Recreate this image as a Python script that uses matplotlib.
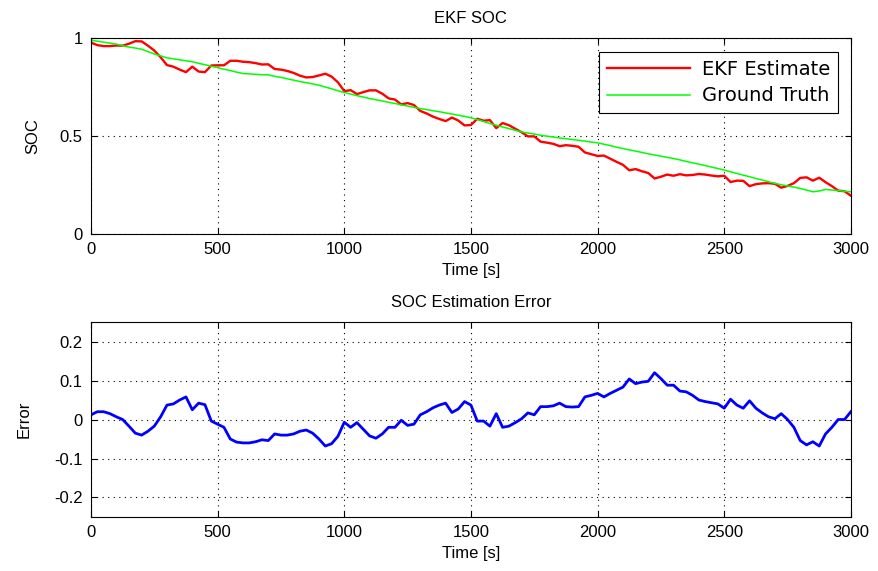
import numpy as np
import matplotlib
matplotlib.use("Agg")
import matplotlib.pyplot as plt

plt.rcParams['font.family'] = ['Liberation Sans Narrow', 'Liberation Sans', 'DejaVu Sans']

# time base, one sample every 25 s
time_s = np.arange(0, 3001, 25)

# reference state of charge
soc_true = [
    0.990, 0.985, 0.980, 0.975, 0.970, 0.962, 0.955, 0.950, 0.944, 0.932,
    0.920, 0.910, 0.900, 0.895, 0.890, 0.885, 0.880, 0.872, 0.865, 0.857,
    0.850, 0.842, 0.835, 0.827, 0.820, 0.818, 0.816, 0.814, 0.813, 0.806,
    0.800, 0.793, 0.786, 0.779, 0.773, 0.767, 0.760, 0.751, 0.742, 0.732,
    0.723, 0.715, 0.707, 0.700, 0.692, 0.686, 0.680, 0.673, 0.667, 0.660,
    0.654, 0.647, 0.641, 0.636, 0.630, 0.625, 0.619, 0.613, 0.607, 0.601,
    0.594, 0.585, 0.575, 0.565, 0.556, 0.547, 0.539, 0.530, 0.522, 0.516,
    0.511, 0.505, 0.500, 0.496, 0.491, 0.487, 0.483, 0.479, 0.475, 0.470,
    0.466, 0.459, 0.452, 0.444, 0.437, 0.430, 0.424, 0.417, 0.410, 0.404,
    0.398, 0.392, 0.386, 0.379, 0.371, 0.364, 0.357, 0.350, 0.342, 0.335,
    0.327, 0.318, 0.310, 0.301, 0.293, 0.284, 0.276, 0.267, 0.259, 0.252,
    0.246, 0.240, 0.233, 0.225, 0.216, 0.220, 0.228, 0.225, 0.222, 0.219,
    0.216,
]

# estimation error (truth - estimate)
soc_err = [
    0.012, 0.020, 0.020, 0.015, 0.007, 0.000, -0.017, -0.035, -0.040, -0.030,
    -0.017, 0.007, 0.037, 0.040, 0.050, 0.058, 0.025, 0.042, 0.038, -0.004,
    -0.012, -0.020, -0.050, -0.058, -0.060, -0.060, -0.057, -0.052, -0.054, -0.037,
    -0.040, -0.040, -0.037, -0.030, -0.027, -0.035, -0.050, -0.068, -0.062, -0.043,
    -0.007, -0.020, -0.008, -0.025, -0.042, -0.048, -0.037, -0.020, -0.020, -0.002,
    -0.015, -0.012, 0.012, 0.020, 0.030, 0.037, 0.042, 0.018, 0.027, 0.046,
    0.037, -0.004, -0.004, -0.017, 0.015, -0.020, -0.017, -0.008, 0.002, 0.017,
    0.012, 0.033, 0.033, 0.035, 0.042, 0.033, 0.032, 0.033, 0.058, 0.062,
    0.067, 0.058, 0.067, 0.075, 0.083, 0.104, 0.092, 0.096, 0.098, 0.120,
    0.105, 0.088, 0.088, 0.073, 0.071, 0.062, 0.050, 0.046, 0.043, 0.040,
    0.029, 0.052, 0.037, 0.029, 0.048, 0.029, 0.017, 0.007, 0.002, 0.015,
    0.000, -0.020, -0.054, -0.065, -0.057, -0.068, -0.037, -0.020, 0.000, 0.000,
    0.020,
]

soc_true = np.array(soc_true)
soc_err = np.array(soc_err)
soc_est = soc_true - soc_err

fig = plt.figure(figsize=(8.79, 5.71), dpi=100)
ax1 = fig.add_axes([0.1035, 0.590, 0.8645, 0.343])
ax2 = fig.add_axes([0.1035, 0.0946, 0.8645, 0.3414])

grid_kw = dict(color='black', linewidth=0.8, dashes=(1, 4))

def matlab_style(ax):
    ax.tick_params(direction='in', top=True, right=True, length=4,
                   width=0.8, labelsize=12, pad=6)
    for s in ax.spines.values():
        s.set_linewidth(0.8)
    ax.grid(True, **grid_kw)
    ax.set_xlim(0, 3000)
    ax.set_xticks(np.arange(0, 3001, 500))
    ax.set_xlabel('Time [s]', fontsize=12, labelpad=4)

# state of charge
ax1.plot(time_s, soc_est, color='#ff0000', linewidth=1.7, label='EKF Estimate')
ax1.plot(time_s, soc_true, color='#00ff00', linewidth=1.1, label='Ground Truth')
matlab_style(ax1)
ax1.set_ylim(0, 1)
ax1.set_yticks([0, 0.5, 1])
ax1.set_yticklabels(['0', '0.5', '1'])
ax1.set_ylabel('SOC', fontsize=12, labelpad=14)
ax1.set_title('EKF SOC', fontsize=12, pad=11)
leg = ax1.legend(loc='upper right', bbox_to_anchor=(0.988, 0.95), fancybox=False,
                 edgecolor='black', framealpha=1,
                 prop={'family': 'DejaVu Sans', 'size': 14},
                 handlelength=4.3, borderpad=0.4, labelspacing=0.4,
                 handletextpad=0.6, borderaxespad=0.2)
leg.get_frame().set_linewidth(0.8)

# error
ax2.plot(time_s, soc_err, color='#0000ff', linewidth=2.0)
matlab_style(ax2)
ax2.set_ylim(-0.25, 0.25)
ax2.set_yticks([-0.2, -0.1, 0, 0.1, 0.2])
ax2.set_yticklabels(['-0.2', '-0.1', '0', '0.1', '0.2'])
ax2.set_ylabel('Error', fontsize=12, labelpad=16)
ax2.set_title('SOC Estimation Error', fontsize=12, pad=11)

fig.savefig('out.png', dpi=100)
